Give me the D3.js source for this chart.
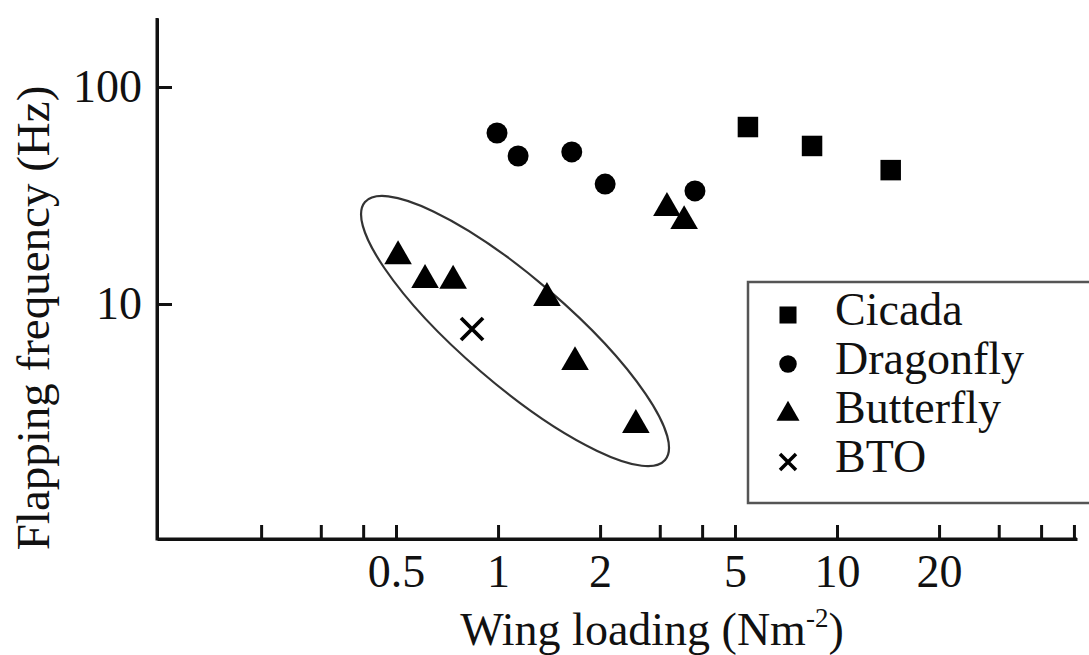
<!DOCTYPE html>
<html><head><meta charset="utf-8">
<script src="https://cdn.jsdelivr.net/npm/d3@7"></script>
<style>body{margin:0;background:#fff}svg{display:block}</style>
</head><body><svg id="c" width="1089" height="655"></svg>
<script>
// ---- data ----
const cicadaX = [5.46, 8.44, 14.4];
const cicadaY = [65.4, 53.5, 41.4];
const dragonflyX = [0.993, 1.146, 1.65, 2.07, 3.81];
const dragonflyY = [61.4, 48.1, 50.2, 35.7, 33.2];
const butterflyX = [0.507, 0.609, 0.737, 1.394, 1.687, 2.55, 3.15, 3.54];
const butterflyY = [16.6, 12.9, 12.8, 10.66, 5.4, 2.77, 27.7, 24.1];
const btoX = [0.838];
const btoY = [7.67];
const xTicks = [0.2, 0.3, 0.4, 0.5, 1, 2, 3, 4, 5, 10, 20, 30, 40, 50];
const xTickLabels = [0.5, 1, 2, 5, 10, 20];
const yTicks = [10, 100];
const ellipseEnds = [[0.405, 29.5], [3.11, 1.91]]; // major axis endpoints (data)
const legendNames = ["Cicada", "Dragonfly", "Butterfly", "BTO"];

const FONT = "'Liberation Serif','Times New Roman',serif";
const svg = d3.select("#c");
const x = d3.scaleLog().domain([0.0986, 51.05]).range([157, 1077]);
const y = d3.scaleLog().domain([0.826, 208]).range([539, 18]);

// axes
const xAxis = d3.axisBottom(x).tickValues(xTicks).tickSize(-14).tickSizeOuter(0).tickPadding(15)
  .tickFormat(d => xTickLabels.includes(d) ? String(d) : "");
const yAxis = d3.axisLeft(y).tickValues(yTicks).tickSize(-15).tickSizeOuter(0).tickPadding(15)
  .tickFormat(d => String(d));

const gx = svg.append("g").attr("transform", "translate(0,539)").call(xAxis);
const gy = svg.append("g").attr("transform", "translate(157,0)").call(yAxis);
[gx, gy].forEach(g => {
  g.select(".domain").attr("stroke", "#111").attr("stroke-width", 3);
  g.selectAll(".tick line").attr("stroke", "#111").attr("stroke-width", 3);
  g.selectAll(".tick text").attr("fill", "#111").style("font-family", FONT).style("font-size", "46px");
});
// join the corner
svg.append("path").attr("d", `M157,18V539H1077`).attr("fill", "none")
  .attr("stroke", "#111").attr("stroke-width", 3).attr("stroke-linejoin", "miter");

// axis titles
const xt = svg.append("text").attr("x", 652).attr("y", 645).attr("text-anchor", "middle")
  .style("font-family", FONT).style("font-size", "46px").attr("fill", "#111");
xt.append("tspan").text("Wing loading (Nm");
xt.append("tspan").text("-2").attr("dy", -18).style("font-size", "27px");
xt.append("tspan").text(")").attr("dy", 18);

svg.append("text").attr("transform", "translate(49,318) rotate(-90)").attr("text-anchor", "middle")
  .style("font-family", FONT).style("font-size", "47px").attr("fill", "#111")
  .text("Flapping frequency (Hz)");

// ellipse
const p1 = [x(ellipseEnds[0][0]), y(ellipseEnds[0][1])];
const p2 = [x(ellipseEnds[1][0]), y(ellipseEnds[1][1])];
const cx = (p1[0] + p2[0]) / 2, cy = (p1[1] + p2[1]) / 2;
const ang = Math.atan2(p2[1] - p1[1], p2[0] - p1[0]) * 180 / Math.PI;
const semiA = Math.hypot(p2[0] - p1[0], p2[1] - p1[1]) / 2;
svg.append("ellipse").attr("cx", 0).attr("cy", 0).attr("rx", semiA).attr("ry", 53)
  .attr("transform", `translate(${cx},${cy}) rotate(${ang})`)
  .attr("fill", "none").attr("stroke", "#333").attr("stroke-width", 2.2);

// markers
const zip = (a, b) => a.map((v, i) => [v, b[i]]);
const sym = (type, size) => d3.symbol().type(type).size(size)();
function drawSym(data, path) {
  svg.append("g").selectAll("path").data(data).join("path")
    .attr("transform", d => `translate(${x(d[0])},${y(d[1])})`)
    .attr("d", path).attr("fill", "#000");
}
drawSym(zip(cicadaX, cicadaY), sym(d3.symbolSquare, 420));
drawSym(zip(dragonflyX, dragonflyY), sym(d3.symbolCircle, 345));
drawSym(zip(butterflyX, butterflyY), sym(d3.symbolTriangle, 330));
const cross = "M-11,-11L11,11M11,-11L-11,11";
svg.append("g").selectAll("path").data(zip(btoX, btoY)).join("path")
  .attr("transform", d => `translate(${x(d[0])},${y(d[1])})`)
  .attr("d", cross).attr("stroke", "#000").attr("stroke-width", 3.8).attr("fill", "none");

// legend
const lg = svg.append("g");
lg.append("rect").attr("x", 748).attr("y", 282).attr("width", 400).attr("height", 221)
  .attr("fill", "#fff").attr("stroke", "#555").attr("stroke-width", 2.5);
const legSyms = [sym(d3.symbolSquare, 290), sym(d3.symbolCircle, 240), sym(d3.symbolTriangle, 230), null];
legendNames.forEach((name, i) => {
  const ry = 315 + i * 49;
  if (legSyms[i]) {
    lg.append("path").attr("d", legSyms[i]).attr("transform", `translate(788,${ry + (i===2?1:0)})`).attr("fill", "#000");
  } else {
    lg.append("path").attr("d", "M-8,-8L8,8M8,-8L-8,8").attr("transform", `translate(788,${ry})`)
      .attr("stroke", "#000").attr("stroke-width", 3.5);
  }
  lg.append("text").attr("x", 835).attr("y", ry + 10).style("font-family", FONT).style("font-size", "46px")
    .attr("fill", "#111").text(name);
});
</script></body></html>
